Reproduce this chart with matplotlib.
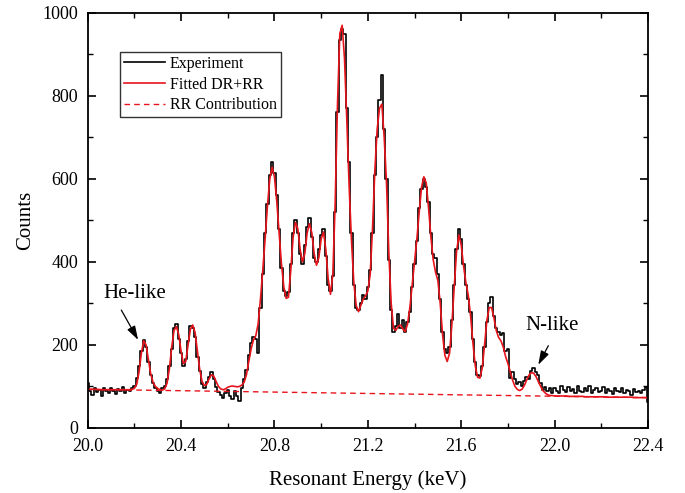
import numpy as np
import matplotlib
matplotlib.use('Agg')
import matplotlib.pyplot as plt
from matplotlib.ticker import MultipleLocator, FormatStrFormatter

plt.rcParams['font.family'] = ['Liberation Serif', 'DejaVu Serif']

# energy grid (keV), 0.01 keV bins
energy = np.round(np.arange(20.00, 22.401, 0.01), 2)

# measured counts per bin
experiment = [
    108, 88, 80, 95, 86, 92, 78, 96, 90, 84,
    97, 88, 82, 94, 90, 99, 85, 92, 88, 96,
    102, 120, 150, 185, 212, 195, 160, 128, 108, 96,
    88, 84, 95, 100, 118, 150, 190, 240, 250, 215,
    180, 150, 165, 210, 245, 240, 218, 170, 138, 105,
    96, 110, 122, 135, 118, 98, 86, 80, 72, 84,
    92, 78, 70, 88, 76, 66, 95, 118, 140, 175,
    205, 220, 215, 180, 290, 370, 470, 540, 610, 640,
    615, 560, 480, 385, 330, 318, 328, 395, 470, 500,
    470, 420, 395, 440, 485, 505, 460, 410, 400, 430,
    465, 480, 415, 345, 330, 365, 520, 760, 935, 960,
    950, 770, 640, 470, 345, 290, 285, 300, 320, 310,
    340, 380, 470, 610, 700, 790, 850, 720, 600, 405,
    285, 230, 245, 275, 240, 260, 230, 255, 280, 340,
    395, 450, 530, 575, 600, 580, 545, 470, 420, 410,
    370, 310, 230, 190, 180, 195, 260, 345, 430, 480,
    455, 395, 345, 310, 280, 215, 160, 128, 125, 150,
    195, 255, 300, 315, 270, 240, 230, 225, 228, 185,
    190, 120, 135, 118, 105, 110, 100, 112, 122, 118,
    138, 145, 135, 128, 108, 92, 98, 88, 95, 84,
    96, 90, 84, 100, 92, 86, 98, 88, 94, 85,
    102, 90, 86, 95, 88, 100, 84, 92, 96, 86,
    90, 98, 84, 93, 88, 82, 95, 90, 86, 96,
    84, 92, 88, 80, 94, 86, 90, 84, 92, 98,
    62,
]

# fitted DR+RR curve
fitted = [
    93, 93, 93, 93, 93, 92, 92, 92, 92, 92,
    92, 92, 92, 92, 92, 92, 92, 92, 92, 93,
    95, 105, 135, 180, 210, 200, 165, 130, 110, 100,
    95, 92, 91, 94, 108, 143, 195, 235, 244, 225,
    185, 155, 160, 200, 238, 248, 230, 185, 140, 112,
    102, 105, 118, 128, 125, 112, 100, 94, 92, 94,
    98, 100, 101, 100, 99, 100, 103, 110, 128, 160,
    190, 212, 222, 250, 310, 380, 455, 535, 600, 628,
    605, 545, 470, 395, 340, 312, 315, 380, 460, 495,
    480, 430, 400, 420, 470, 492, 470, 420, 392, 410,
    455, 472, 430, 360, 322, 370, 540, 780, 950, 970,
    890, 740, 580, 450, 350, 295, 280, 295, 310, 318,
    330, 370, 480, 620, 720, 770, 780, 700, 590, 420,
    300, 240, 235, 245, 248, 238, 232, 250, 290, 345,
    400, 455, 520, 580, 605, 590, 530, 460, 405, 375,
    355, 300, 225, 175, 160, 180, 250, 340, 425, 465,
    440, 390, 350, 320, 270, 205, 150, 122, 120, 145,
    200, 260, 290, 290, 265, 235, 218, 210, 195, 172,
    155, 135, 115, 100, 93, 90, 93, 102, 115, 127,
    133, 132, 124, 112, 100, 90, 84, 80, 78, 78,
    77, 77, 77, 77, 77, 77, 76, 76, 76, 76,
    76, 76, 76, 75, 75, 75, 75, 75, 75, 75,
    75, 75, 74, 74, 74, 74, 74, 74, 74, 74,
    74, 74, 74, 74, 73, 73, 73, 73, 73, 73,
    73,
]

# RR contribution (straight line)
rr_energy = [20.0, 22.4]
rr_counts = [93, 73]

fig = plt.figure(figsize=(6.85, 4.93), dpi=100)
ax = fig.add_axes([0.128, 0.132, 0.818, 0.842])

ax.plot(energy, experiment, color='black', lw=1.2, drawstyle='steps-mid', label='Experiment')
ax.plot(energy, fitted, color='#e8141c', lw=1.2, label='Fitted DR+RR')
ax.plot(rr_energy, rr_counts, color='#e8141c', lw=1.0, ls=(0, (4, 3)), label='RR Contribution')

ax.set_xlim(20.0, 22.4)
ax.set_ylim(0, 1000)
ax.xaxis.set_major_locator(MultipleLocator(0.4))
ax.xaxis.set_minor_locator(MultipleLocator(0.2))
ax.yaxis.set_major_locator(MultipleLocator(200))
ax.yaxis.set_minor_locator(MultipleLocator(100))
ax.xaxis.set_major_formatter(FormatStrFormatter('%.1f'))
ax.tick_params(which='both', direction='in', top=True, right=True, labelsize=13)
ax.tick_params(which='major', length=6, width=1.2, pad=7)
ax.tick_params(which='minor', length=3.5, width=1.0)
for s in ax.spines.values():
    s.set_linewidth(1.3)

ax.set_xlabel('Resonant Energy (keV)', fontsize=15, labelpad=11)
ax.set_ylabel('Counts', fontsize=15, labelpad=5)

arrow = dict(arrowstyle='-|>,head_length=0.7,head_width=0.22', color='black',
             lw=0.9, shrinkA=0, shrinkB=0, mutation_scale=12)
ax.text(20.20, 325, 'He-like', fontsize=15, ha='center', va='center')
ax.annotate('', xy=(20.216, 212), xytext=(20.144, 284), arrowprops=arrow)
ax.text(21.99, 246, 'N-like', fontsize=15, ha='center', va='center')
ax.annotate('', xy=(21.93, 152), xytext=(21.973, 198), arrowprops=arrow)

leg = ax.legend(loc='upper left', bbox_to_anchor=(0.057, 0.906), borderaxespad=0,
                fontsize=11.5, frameon=True, fancybox=False, handlelength=2.6,
                handletextpad=0.3, labelspacing=0.3, borderpad=0.25)
leg.get_frame().set_edgecolor('black')
leg.get_frame().set_linewidth(1.0)

fig.savefig('out.png', dpi=100)
